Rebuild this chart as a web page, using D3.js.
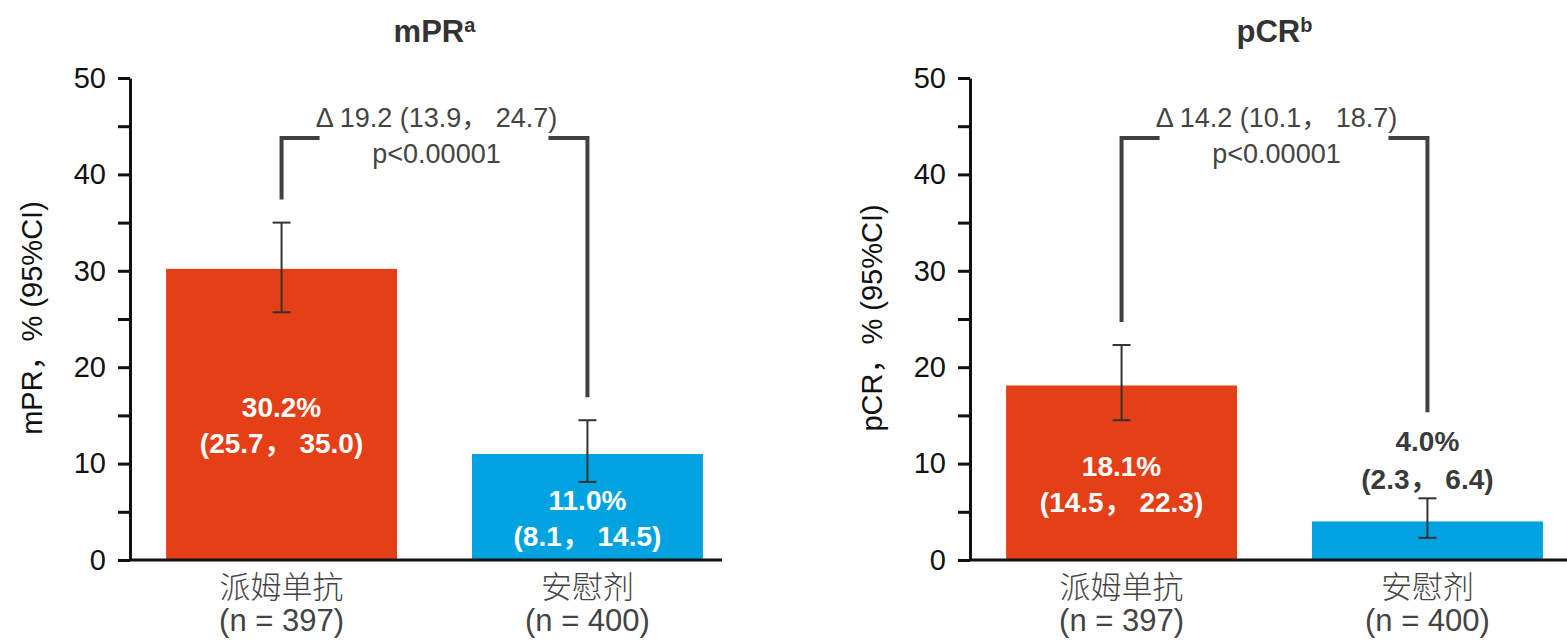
<!DOCTYPE html>
<html>
<head>
<meta charset="utf-8">
<script src="https://cdn.jsdelivr.net/npm/d3@7"></script>
<style>
	body { margin: 0; background: #fff; }
	text { font-family: "Liberation Sans", Arial, "Noto Sans CJK SC", sans-serif; }
</style>
</head>
<body>
<div id="chart"></div>
<script>
// categories and tick labels
var groups = ["派姆单抗", "安慰剂"];
var groupSizes = ["(n = 397)", "(n = 400)"];
var yTicks = [0, 10, 20, 30, 40, 50];
var yMinorTicks = [5, 15, 25, 35, 45];

// mPR values (%, 95% CI)
var mprRate = [30.2, 11.0];
var mprLow = [25.7, 8.1];
var mprHigh = [35.0, 14.5];
var mprDelta = "Δ 19.2 (13.9， 24.7)";

// pCR values (%, 95% CI)
var pcrRate = [18.1, 4.0];
var pcrLow = [14.5, 2.3];
var pcrHigh = [22.3, 6.4];
var pcrDelta = "Δ 14.2 (10.1， 18.7)";

var pText = "p<0.00001";
var barColors = ["#e53f18", "#00a2df"];

var svg = d3.select("#chart").append("svg")
	.attr("width", 1567)
	.attr("height", 644);

/*
 *  One panel: y axis, two bars with CI whiskers, the bracket with the
 *  difference on top and the group labels below.
 */
function BarPanel(left, title, sup, yTitle, rate, low, high, delta, lineEnd){
	var vis = this;
	vis.left = left;
	vis.title = title;
	vis.sup = sup;
	vis.yTitle = yTitle;
	vis.rate = rate;
	vis.low = low;
	vis.high = high;
	vis.delta = delta;
	vis.lineEnd = lineEnd;
	vis.draw();
}

BarPanel.prototype.draw = function(){
	var vis = this;
	var g = svg.append("g");

	var y = d3.scaleLinear().domain([0, 50]).range([560, 78]);
	var x = d3.scaleBand().domain(groups)
		.range([vis.left, vis.left + 609])
		.paddingInner(0.245)
		.paddingOuter(0.118);
	var bw = x.bandwidth();
	var cx = function(i){ return x(groups[i]) + bw / 2; };

	// bars
	g.selectAll("rect.bar").data(vis.rate).enter()
		.append("rect")
		.attr("class", "bar")
		.attr("x", function(d, i){ return x(groups[i]); })
		.attr("y", function(d){ return y(d); })
		.attr("width", bw)
		.attr("height", function(d){ return y(0) - y(d); })
		.attr("fill", function(d, i){ return barColors[i]; });

	// y axis
	var yAxis = d3.axisLeft(y)
		.tickValues(yTicks.concat(yMinorTicks))
		.tickSize(12)
		.tickSizeOuter(0)
		.tickPadding(12)
		.tickFormat(function(d){ return yTicks.indexOf(d) >= 0 ? d : ""; });
	var ya = g.append("g").attr("transform", "translate(" + vis.left + ",0)").call(yAxis);
	ya.select(".domain").attr("stroke", "#111").attr("stroke-width", 3);
	ya.selectAll(".tick line").attr("stroke", "#111").attr("stroke-width", 3);
	ya.selectAll(".tick text").attr("font-size", 29).attr("fill", "#111")
		.attr("font-family", "Liberation Sans, Arial, sans-serif");

	// baseline
	g.append("line")
		.attr("x1", vis.left).attr("x2", vis.lineEnd)
		.attr("y1", y(0)).attr("y2", y(0))
		.attr("stroke", "#111").attr("stroke-width", 3);

	// y title
	g.append("text")
		.attr("transform", "translate(" + (vis.left - 98) + "," + 318 + ") rotate(-90)")
		.attr("text-anchor", "middle")
		.attr("dominant-baseline", "central")
		.attr("font-size", 29)
		.attr("fill", "#111")
		.text(vis.yTitle);

	// title
	var t = g.append("text")
		.attr("x", (cx(0) + cx(1)) / 2)
		.attr("y", 42)
		.attr("text-anchor", "middle")
		.attr("font-size", 31)
		.attr("font-weight", "bold")
		.attr("fill", "#333");
	t.append("tspan").text(vis.title);
	t.append("tspan").attr("font-size", 20).attr("dy", -10).text(vis.sup);

	// CI whiskers
	g.selectAll("g.err").data(vis.rate).enter()
		.append("g").attr("class", "err")
		.each(function(d, i){
			var e = d3.select(this);
			var ex = cx(i);
			e.append("line").attr("x1", ex).attr("x2", ex)
				.attr("y1", y(vis.low[i])).attr("y2", y(vis.high[i]));
			e.append("line").attr("x1", ex - 9).attr("x2", ex + 9)
				.attr("y1", y(vis.low[i])).attr("y2", y(vis.low[i]));
			e.append("line").attr("x1", ex - 9).attr("x2", ex + 9)
				.attr("y1", y(vis.high[i])).attr("y2", y(vis.high[i]));
		})
		.selectAll("line").attr("stroke", "#333").attr("stroke-width", 2);

	// value labels, inside the bar if it is tall enough, else above the whisker
	var legEnds = [];
	vis.rate.forEach(function(d, i){
		var inside = (y(0) - y(d)) > 80;
		var b1, b2;
		if (inside){
			var mid = (y(d) + y(0)) / 2 + 12;
			b1 = mid - 9;
			b2 = mid + 27;
			legEnds.push(y(vis.high[i]) - 23);
		}
		else {
			b2 = y(vis.high[i]) - 9;
			b1 = b2 - 38;
			legEnds.push(b1 - 39);
		}
		var col = inside ? "#fff" : "#3a3a3a";
		g.append("text").attr("x", cx(i)).attr("y", b1)
			.attr("text-anchor", "middle").attr("font-size", 28)
			.attr("font-weight", "bold").attr("fill", col)
			.text(d.toFixed(1) + "%");
		g.append("text").attr("x", cx(i)).attr("y", b2)
			.attr("text-anchor", "middle").attr("font-size", 28)
			.attr("font-weight", "bold").attr("fill", col)
			.text("(" + vis.low[i].toFixed(1) + "， " + vis.high[i].toFixed(1) + ")");
	});

	// bracket
	var top = 138;
	var l = cx(0), r = cx(1);
	var path = "M" + l + "," + legEnds[0] + "V" + top + "H" + (l + 38)
		+ "M" + (r - 39) + "," + top + "H" + r + "V" + legEnds[1];
	g.append("path").attr("d", path)
		.attr("fill", "none").attr("stroke", "#404040").attr("stroke-width", 4);

	g.append("text").attr("x", (l + r) / 2 + 2).attr("y", 127)
		.attr("text-anchor", "middle").attr("font-size", 27).attr("fill", "#444")
		.text(vis.delta);
	g.append("text").attr("x", (l + r) / 2 + 2).attr("y", 163)
		.attr("text-anchor", "middle").attr("font-size", 27).attr("fill", "#444")
		.text(pText);

	// group labels
	groups.forEach(function(name, i){
		g.append("text").attr("x", cx(i)).attr("y", 598)
			.attr("text-anchor", "middle").attr("font-size", 31).attr("fill", "#444")
			.attr("font-family", "Noto Sans CJK SC, sans-serif")
			.attr("font-weight", 300)
			.text(name);
		g.append("text").attr("x", cx(i)).attr("y", 631)
			.attr("text-anchor", "middle").attr("font-size", 31).attr("fill", "#444")
			.text(groupSizes[i]);
	});
}

new BarPanel(130, "mPR", "a", "mPR，% (95%CI)", mprRate, mprLow, mprHigh, mprDelta, 722);
new BarPanel(970, "pCR", "b", "pCR，% (95%CI)", pcrRate, pcrLow, pcrHigh, pcrDelta, 1567);
</script>
</body>
</html>
